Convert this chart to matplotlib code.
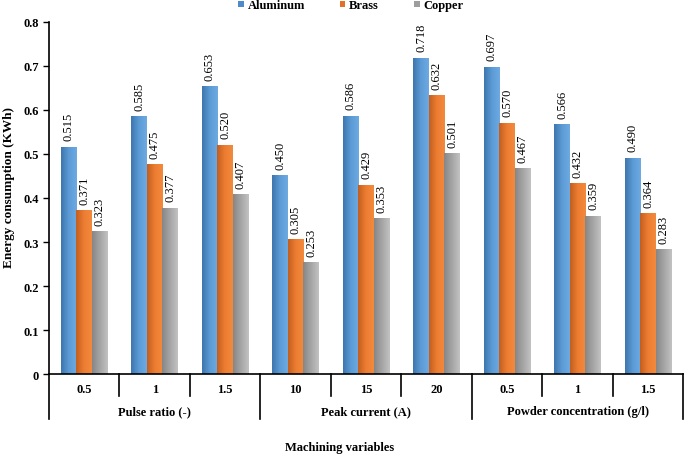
import numpy as np
import matplotlib
matplotlib.use('Agg')
import matplotlib.pyplot as plt
from matplotlib.colors import LinearSegmentedColormap
from matplotlib.transforms import blended_transform_factory

plt.rcParams['font.family'] = ['Liberation Serif', 'DejaVu Serif']

# data
levels = ['0.5', '1', '1.5', '10', '15', '20', '0.5', '1', '1.5']
groups = ['Pulse ratio (-)', 'Peak current (A)', 'Powder concentration (g/l)']
aluminum = [0.515, 0.585, 0.653, 0.450, 0.586, 0.718, 0.697, 0.566, 0.490]
brass = [0.371, 0.475, 0.520, 0.305, 0.429, 0.632, 0.570, 0.432, 0.364]
copper = [0.323, 0.377, 0.407, 0.253, 0.353, 0.501, 0.467, 0.359, 0.283]
series = ['Aluminum', 'Brass', 'Copper']
yticks = [0, 0.1, 0.2, 0.3, 0.4, 0.5, 0.6, 0.7, 0.8]
ytick_labels = ['0', '0.1', '0.2', '0.3', '0.4', '0.5', '0.6', '0.7', '0.8']

colors = ['#4F8ACB', '#E0722A', '#9E9E9E']
grads = [['#3E75AE', '#5B9BD5', '#6EA9E2'],
         ['#C25E1E', '#ED7D31', '#F28A3E'],
         ['#868686', '#A5A5A5', '#C2C2C2']]

fig = plt.figure(figsize=(6.85, 4.56), dpi=100)
ax = fig.add_axes([0.0715, 0.1776, 0.926, 0.772])

x = np.arange(len(levels))
w = 0.22
grad = np.linspace(0, 1, 64).reshape(1, -1)
for k, vals in enumerate([aluminum, brass, copper]):
    pos = x + (k - 1) * w
    bars = ax.bar(pos, vals, w, color=colors[k], label=series[k], zorder=1)
    cmap = LinearSegmentedColormap.from_list('g%d' % k, grads[k])
    for b, v in zip(bars, vals):
        x0 = b.get_x()
        ax.imshow(grad, extent=[x0, x0 + w, 0, v], aspect='auto', cmap=cmap,
                  zorder=2, interpolation='bilinear')
        ax.annotate('%.3f' % v, (x0 + w / 2, v), xytext=(0, 5),
                    textcoords='offset points', rotation=90, ha='center',
                    va='bottom', fontsize=9)

ax.set_xlim(-0.5, len(levels) - 0.5)
ax.set_ylim(0, 0.8)
ax.set_yticks(yticks)
ax.set_yticklabels(ytick_labels, fontweight='bold', fontsize=9)
ax.tick_params(axis='y', direction='out', length=4, width=1)
ax.set_xticks([])
for s in ['top', 'right']:
    ax.spines[s].set_visible(False)
ax.spines['left'].set_linewidth(1.2)
ax.spines['bottom'].set_linewidth(1.2)

# multi-level x axis
tr = blended_transform_factory(ax.transData, ax.transAxes)
px = 1 / (ax.get_window_extent().height)
for i in range(1, len(levels)):
    if i % 3 != 0:
        ax.plot([i - 0.5, i - 0.5], [0, -22 * px], color='black', lw=1.2,
                transform=tr, clip_on=False)
for i in range(0, len(levels) + 1, 3):
    ax.plot([i - 0.5, i - 0.5], [0, -45 * px], color='black', lw=1.2,
            transform=tr, clip_on=False)
for i, lab in enumerate(levels):
    ax.text(i, -15 * px, lab, transform=tr, ha='center', va='center',
            fontweight='bold', fontsize=9)
for g, lab in enumerate(groups):
    ax.text(g * 3 + 1, -37 * px, lab, transform=tr, ha='center', va='center',
            fontweight='bold', fontsize=9)

fig.text(0.496, 0.018, 'Machining variables', ha='center', va='center',
         fontweight='bold', fontsize=9)
fig.text(0.013, 0.588, 'Energy consumption (KWh)', ha='center', va='center',
         rotation=90, fontweight='bold', fontsize=9.5)

fig.legend(loc='center', bbox_to_anchor=(0.512, 0.986), ncol=3, frameon=False,
           handlelength=0.45, handleheight=0.45, handletextpad=0.3,
           columnspacing=2.8, prop={'weight': 'bold', 'size': 9})

fig.savefig('out.png', dpi=100)
